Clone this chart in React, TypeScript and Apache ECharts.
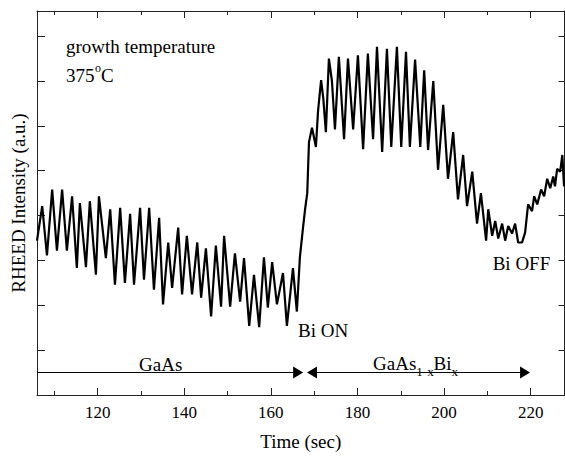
import React, { useEffect, useRef } from "react";
import * as echarts from "echarts";

// Time (sec) and RHEED intensity (a.u.)
const times = [
  106.0, 107.2, 108.3, 109.5, 110.6, 111.8, 112.9, 114.1, 115.2, 115.9,
  117.3, 118.2, 119.6, 120.3, 121.9, 122.9, 124.0, 125.2, 126.3, 127.5,
  128.4, 129.8, 130.7, 131.9, 133.0, 134.2, 135.1, 136.3, 137.2, 138.6,
  139.5, 140.6, 141.8, 143.0, 143.9, 145.0, 146.2, 147.3, 148.5, 149.2,
  150.6, 151.7, 152.9, 153.8, 155.0, 156.1, 157.3, 158.4, 159.3, 160.3,
  161.4, 162.8, 163.7, 165.1, 166.0, 166.7, 167.4, 167.9, 168.4, 168.8,
  169.5, 170.4, 170.9, 171.6, 172.1, 172.7, 173.4, 174.1, 174.8, 175.7,
  176.9, 177.8, 179.0, 180.1, 181.3, 182.4, 183.6, 184.5, 185.7, 186.8,
  187.8, 189.1, 190.1, 191.2, 192.1, 193.3, 194.5, 195.4, 196.3, 197.5,
  198.6, 199.8, 200.9, 202.1, 203.2, 204.4, 205.3, 206.5, 207.6, 208.5,
  209.7, 210.2, 211.1, 211.8, 212.5, 213.4, 214.1, 214.8, 215.7, 216.4,
  217.1, 218.0, 218.7, 219.4, 220.3, 220.8, 221.5, 222.4, 223.1, 223.8,
  224.5, 225.2, 225.6, 226.1, 226.8, 227.3, 227.7,
];
const intensity = [
  3.44, 4.21, 3.11, 4.58, 3.22, 4.58, 3.22, 4.43, 2.83, 4.28,
  2.85, 4.32, 2.68, 4.43, 3.05, 4.14, 2.46, 4.17, 2.50, 4.04,
  2.46, 4.17, 2.57, 4.17, 2.35, 3.95, 2.02, 3.40, 2.39, 3.73,
  2.24, 3.55, 2.24, 3.40, 2.17, 3.27, 1.75, 3.33, 1.97, 3.55,
  1.97, 3.16, 2.08, 3.05, 1.54, 2.68, 1.51, 3.07, 1.95, 2.96,
  2.02, 2.72, 1.54, 2.83, 1.86, 3.07, 3.71, 4.14, 4.50, 5.64,
  5.96, 5.53, 6.34, 7.02, 6.62, 5.86, 7.50, 7.00, 5.92, 7.54,
  5.70, 7.50, 5.92, 7.57, 5.48, 7.61, 5.70, 7.76, 5.42, 7.72,
  5.53, 7.76, 5.53, 7.65, 5.53, 7.48, 5.53, 7.24, 5.46, 7.00,
  5.02, 6.47, 4.82, 5.86, 4.36, 5.35, 4.21, 4.98, 3.82, 4.50,
  3.44, 4.14, 3.55, 3.88, 3.49, 3.82, 3.44, 3.77, 3.60, 3.82,
  3.40, 3.40, 3.62, 4.25, 4.10, 4.43, 4.25, 4.58, 4.43, 4.82,
  4.61, 4.87, 4.65, 5.04, 4.98, 5.35, 4.65,
];

const majorXTicks = [120, 140, 160, 180, 200, 220];
const minorXTicks = [110, 130, 150, 170, 190, 210];
const yTicks = [0, 1, 2, 3, 4, 5, 6, 7, 8];

const X_MIN = 106;
const X_MAX = 227.8;
const Y_MIN = 0;
const Y_MAX = 8.56;

// arrows (data coords): GaAs layer and GaAs1-xBix layer
const arrowY = 0.5;
const gaasArrow = [106, 166.3];
const alloyArrow = [169.5, 218.7];

const FONT = '"Liberation Serif", "Times New Roman", serif';
const AX = "#222";

export default function App() {
  const ref = useRef<HTMLDivElement>(null);

  useEffect(() => {
    if (!ref.current) return;
    const chart = echarts.init(ref.current, null, { renderer: "svg" });

    const baseX = (position: string, ticks: number[], len: number, showLine: boolean, showLabels: boolean) => ({
      type: "value",
      gridIndex: 0,
      position,
      min: X_MIN,
      max: X_MAX,
      axisLine: { show: showLine, onZero: false, lineStyle: { color: AX, width: 1 } },
      axisTick: { show: true, inside: true, length: len, customValues: ticks, lineStyle: { color: AX, width: 1 } },
      axisLabel: showLabels
        ? { show: true, customValues: ticks, fontSize: 17, fontFamily: FONT, color: "#000", margin: 9 }
        : { show: false },
      splitLine: { show: false },
    });

    const baseY = (position: string, len: number) => ({
      type: "value",
      gridIndex: 0,
      position,
      min: Y_MIN,
      max: Y_MAX,
      axisLine: { show: true, onZero: false, lineStyle: { color: AX, width: 1 } },
      axisTick: { show: true, inside: true, length: len, customValues: yTicks, lineStyle: { color: AX, width: 1 } },
      axisLabel: { show: false },
      splitLine: { show: false },
    });

    const txt = (text: string, x: number, y: number, size = 19) => ({
      type: "text",
      x,
      y,
      silent: true,
      style: {
        text,
        fontSize: size,
        fontFamily: FONT,
        fill: "#000",
        align: "left",
        verticalAlign: "middle",
      },
    });

    const option: any = {
      animation: false,
      backgroundColor: "#fff",
      grid: { left: 37, top: 11, width: 527.5, height: 390.5, containLabel: false },
      xAxis: [
        {
          ...baseX("bottom", majorXTicks, 7, true, true),
          name: "Time (sec)",
          nameLocation: "middle",
          nameGap: 37,
          nameTextStyle: { fontSize: 19, fontFamily: FONT, color: "#000" },
        },
        baseX("bottom", minorXTicks, 4, false, false),
        baseX("top", majorXTicks, 7, true, false),
        baseX("top", minorXTicks, 4, false, false),
      ],
      yAxis: [
        {
          ...baseY("left", 8),
          name: "RHEED Intensity (a.u.)",
          nameLocation: "middle",
          nameGap: 9,
          nameTextStyle: { fontSize: 19, fontFamily: FONT, color: "#000" },
        },
        baseY("right", 6),
      ],
      series: [
        {
          type: "line",
          xAxisIndex: 0,
          yAxisIndex: 0,
          data: times.map((t, i) => [t, intensity[i]]),
          showSymbol: false,
          symbol: "none",
          smooth: false,
          lineStyle: { color: "#000", width: 2.2 },
          itemStyle: { color: "#000" },
          markLine: {
            silent: true,
            symbol: ["triangle", "triangle"],
            symbolSize: [12, 10],
            label: { show: false },
            lineStyle: { color: "#000", width: 1, type: "solid" },
            emphasis: { disabled: true },
            data: [
              [
                { coord: [gaasArrow[0], arrowY], symbol: "none" },
                { coord: [gaasArrow[1], arrowY], symbol: "triangle" },
              ],
              [
                { coord: [alloyArrow[0], arrowY], symbol: "triangle" },
                { coord: [alloyArrow[1], arrowY], symbol: "triangle" },
              ],
            ],
          },
        },
      ],
      graphic: [
        txt("growth temperature", 66, 46.6),
        txt("375", 66, 75.6),
        txt("o", 95, 68, 12),
        txt("C", 101, 75.6),
        txt("Bi ON", 298, 330.6),
        txt("Bi OFF", 492.7, 263.6),
        txt("GaAs", 139, 364.6),
        txt("GaAs", 373, 363.6),
        txt("1-x", 416.3, 371, 13),
        txt("Bi", 433.6, 363.6),
        txt("x", 451.6, 371, 13),
      ],
    };

    chart.setOption(option);
    return () => chart.dispose();
  }, []);

  return (
    <div
      ref={ref}
      style={{ position: "absolute", left: 0, top: 0, width: 565, height: 456, background: "#fff" }}
    />
  );
}
